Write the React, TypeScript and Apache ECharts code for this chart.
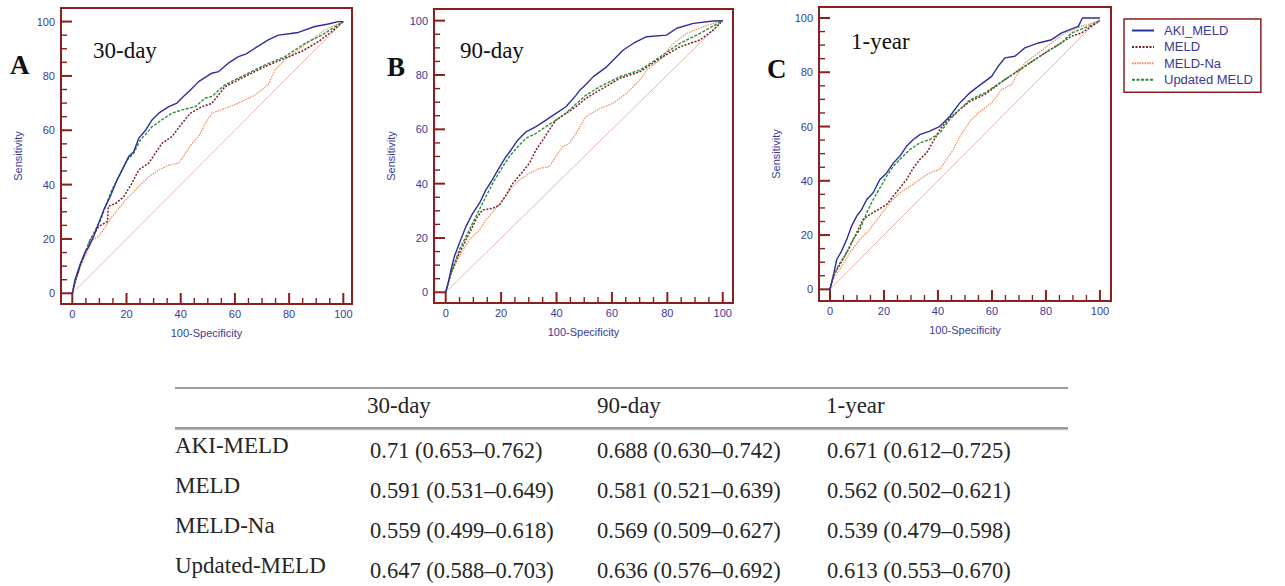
import React, { useEffect, useRef } from "react";
import * as echarts from "echarts";

// ---------- data ----------
const SERIES_NAMES = ["AKI_MELD", "MELD", "MELD-Na", "Updated MELD"];
const PANEL_TITLES = ["30-day", "90-day", "1-year"];
const PANEL_LETTERS = ["A", "B", "C"];
const MAJOR_TICKS = [0, 20, 40, 60, 80, 100];
const MINOR_TICKS = [5, 10, 15, 25, 30, 35, 45, 50, 55, 65, 70, 75, 85, 90, 95];
const X_AXIS_NAME = "100-Specificity";
const Y_AXIS_NAME = "Sensitivity";
const DIAGONAL = [[0, 0], [100, 100]];

// Panel A: 30-day
const AKI_30 = [[0,0],[1,5],[3,11],[4.8,15.3],[6,17],[7.9,20.9],[9.7,25.8],[11.6,30.7],[14,35.6],[16.5,41.7],[19,46.6],[20.8,50.3],[22.6,52],[24.5,57],[27,60],[29.4,63.8],[31.9,66.3],[35.6,68.7],[38.6,70],[41,72.4],[43.6,74.8],[46.6,77.9],[51.5,81],[54,81.6],[58,85],[61.3,87.1],[64,88],[67.4,90.2],[72.3,93.3],[76,95],[80,95.5],[83.4,96],[89.5,98.2],[94.5,99.1],[98,100],[100,100]];
const MELD_30 = [[0,0],[1,4],[3,10.4],[6.6,19.6],[9.7,24.5],[12.2,26],[13,26.5],[13.3,32],[15.9,33],[19,35.6],[22,40.5],[24.5,45.4],[28.2,47.9],[30.6,51.5],[33.1,55.2],[36.8,57.7],[40.5,62.6],[43.6,66.3],[47.9,68.7],[51.5,69.9],[56.3,76],[63.7,79.8],[71,83.4],[78.4,86.5],[84.6,89],[90.8,92.6],[95.7,96.3],[100,100]];
const NA_30 = [[0,0],[1,4],[3,9.8],[5,14],[7.3,19.6],[9.7,20.9],[12.2,24.5],[14.6,28.2],[17.7,31.9],[20.8,35.6],[24.5,39.3],[28.2,42.9],[31.9,45.4],[35.6,47.2],[39.3,47.9],[41.7,51.5],[44.2,55.2],[46.6,57.7],[49.1,62.6],[51.5,66.3],[56.3,68],[61.3,70],[67.4,73],[72.3,76.7],[74.8,82.2],[78.4,85.9],[83.4,89.6],[88.3,93.3],[93.2,96.9],[100,100]];
const UPD_30 = [[0,0],[1,4],[3,10.4],[6,18.4],[8.5,23.3],[10.5,27],[12.2,31.9],[14.6,38],[17.7,44],[20.2,49],[22.6,51.5],[25.1,56.4],[27,58.5],[29.4,61.3],[33,63.8],[36.8,66.3],[40.5,67.5],[45.4,68.7],[49,71.8],[51.5,72.5],[56.3,76.7],[63.7,80.4],[71,84],[78.4,87.1],[85.9,92],[92,95],[100,100]];

// Panel B: 90-day
const AKI_90 = [[0,0],[0.8,3],[1.9,8.2],[3.1,13.1],[4.9,18],[7.3,24.2],[9.7,29],[12.2,32.8],[14.5,37.7],[16.4,40.7],[18.8,45],[21.8,50],[23.6,52.4],[26,56],[29,59.1],[32.6,61],[36.2,63.4],[39.8,65.9],[43.4,68.3],[47,72.5],[48.5,74.5],[50.6,76.5],[53.3,79.4],[58.1,83],[60.5,85.5],[64.1,89.2],[67.8,91.7],[72.5,94.1],[79.7,94.7],[83.4,97.2],[89.4,99],[96.6,99.9],[100,100]];
const MELD_90 = [[0,0],[0.8,3],[1.9,7],[4.9,14.4],[8.5,21.7],[11.5,27.9],[13.3,30.3],[16.9,30.9],[19.4,32.1],[21.8,35.8],[24.2,40.1],[27.8,44.4],[30.2,47.5],[32.6,52.4],[35,56],[37.4,59.8],[39.8,63.4],[43.4,65.9],[47,68.3],[50.6,71.4],[55.7,74.5],[62.9,78.8],[70.1,81.2],[77.4,86.1],[84.6,90.4],[91.8,92.9],[96.6,96.6],[100,100]];
const NA_90 = [[0,0],[0.8,3],[1.9,7],[5.5,14.4],[8.5,19.3],[12.2,23],[14.5,26.6],[17.6,30.3],[20.6,34],[23.6,38.3],[26.6,41.3],[30.2,43.8],[33.8,45.6],[37.4,46.3],[39.8,50],[42.2,53.6],[44.6,54.8],[47,58.5],[50.6,64.7],[55.7,67.7],[60.5,69.6],[65.3,73.3],[70.1,78.2],[72.6,81.8],[77.4,85.5],[82.2,91.7],[87,95.3],[93,97.8],[100,100]];
const UPD_90 = [[0,0],[0.8,3],[1.9,7],[4.9,15.6],[7.3,20.5],[9.7,25.4],[12.1,30.3],[14.5,35.2],[17.6,41.3],[20.6,46.3],[23,50],[26,53.6],[29,56.7],[32.6,58.5],[36.2,61],[39.8,63.4],[43.4,65.9],[47,69.3],[50.6,72.6],[55.7,75.7],[62.9,79.4],[70.1,81.8],[77.4,86.7],[84.6,91.7],[91.8,95.3],[100,100]];

// Panel C: 1-year
const AKI_1Y = [[0,0],[1.2,4.9],[2.5,11],[4.3,14.1],[6.2,18.4],[8,23.3],[9.9,27],[11.7,29.4],[13.6,33.1],[16,35.6],[18.5,40.5],[21,42.9],[23.5,46.6],[25.9,49.1],[28.4,52.8],[30.9,55.2],[33.3,57],[37,58.3],[40.7,60.1],[44.4,63.8],[48.1,68.7],[51.9,72.5],[54.9,74.8],[59.9,78.5],[62.3,82.2],[64.8,85.3],[68.5,85.9],[72.2,89],[77.2,90.8],[82.1,92],[85.8,94.5],[92,96.9],[93.5,100],[100,100]];
const MELD_1Y = [[0,0],[1.2,4.9],[3.7,9.2],[6.8,14.7],[9.9,20.9],[12.3,25.8],[14.8,27.6],[17.9,29.4],[21,31.3],[23.5,34.4],[25.9,37.4],[28.4,40.5],[30.9,44.8],[33.3,47.9],[35.8,50.3],[38.3,54.6],[40.7,58.9],[43.8,62.6],[48.1,66.3],[51.9,69.3],[57.4,71.8],[64.8,77.3],[72.2,82.2],[79.6,87.1],[84.6,90.2],[89.5,93.3],[93.2,94.5],[96.9,96.9],[100,99]];
const NA_1Y = [[0,0],[1.2,4],[3.7,7.4],[7.4,13.5],[11.1,18.4],[14.8,22.1],[18.5,27],[22.2,31.9],[25.9,35.6],[29.6,38],[33.3,40.5],[37,42.9],[40.7,44.2],[43.2,47.9],[45.7,51.5],[48.1,56.4],[51.9,62],[54.9,65],[59.9,68.7],[63.6,73.6],[67.3,75.5],[69.8,79.8],[72.2,83.4],[77.2,87.1],[82.1,90.8],[87,94.5],[93.2,96.9],[100,99]];
const UPD_1Y = [[0,0],[1.2,4.9],[3.7,9.8],[6.2,13.5],[8.6,18.4],[11.1,22.1],[13.6,28.2],[16,33.1],[18.5,37.4],[21,41.7],[23.5,45.4],[26.5,48.5],[29.6,51.5],[33.3,54],[37,55.2],[40.7,57.7],[44.4,62.6],[48.1,66.3],[51.9,69.9],[57.4,72.4],[64.8,77.3],[72.2,82.2],[79.6,87.1],[85.8,90.8],[89.5,94.5],[95.7,96.9],[100,99]];

const PANEL_DATA = [
  [AKI_30, MELD_30, NA_30, UPD_30],
  [AKI_90, MELD_90, NA_90, UPD_90],
  [AKI_1Y, MELD_1Y, NA_1Y, UPD_1Y],
];

// AUC table
const TABLE_HEADERS = ["30-day", "90-day", "1-year"];
const TABLE_ROWS = ["AKI-MELD", "MELD", "MELD-Na", "Updated-MELD"];
const AUC_30 = ["0.71 (0.653–0.762)", "0.591 (0.531–0.649)", "0.559 (0.499–0.618)", "0.647 (0.588–0.703)"];
const AUC_90 = ["0.688 (0.630–0.742)", "0.581 (0.521–0.639)", "0.569 (0.509–0.627)", "0.636 (0.576–0.692)"];
const AUC_1Y = ["0.671 (0.612–0.725)", "0.562 (0.502–0.621)", "0.539 (0.479–0.598)", "0.613 (0.553–0.670)"];
const AUC_COLUMNS = [AUC_30, AUC_90, AUC_1Y];

// ---------- layout / style ----------
const FRAME = "#8b1e1e";
const NAVY = "#3a3a98";
const SERIF = "Liberation Serif, Times New Roman, serif";
const SANS = "Liberation Sans, Arial, sans-serif";

const PANELS = [
  { left: 61, top: 8, width: 291, height: 296, xMin: -4.17, xMax: 103.2, yMin: -3.94, yMax: 105.0, letter: [10, 65], title: [93, 50] },
  { left: 434, top: 9, width: 299, height: 294, xMin: -4.22, xMax: 103.7, yMin: -3.94, yMax: 104.3, letter: [387, 67], title: [460, 50] },
  { left: 819, top: 7, width: 292, height: 294, xMin: -4.07, xMax: 104.1, yMin: -4.3, yMax: 104.05, letter: [767, 69], title: [851, 41] },
];

const STYLES = [
  { color: "#2e2e9e", type: "solid", width: 1.4 },
  { color: "#7a1f26", type: [2, 1.5], width: 1.5 },
  { color: "#f38a5c", type: [1.5, 1], width: 1.2 },
  { color: "#2f8a3c", type: [3, 1.5], width: 1.4 },
];

const TABLE_LEFT = 175;
const TABLE_RIGHT = 1068;
const COL_X = [370, 597, 827];
const HEAD_X = [367, 597, 826];
const HEAD_Y = 405;
const ROW_LABEL_Y = [445, 485, 525, 565];
const ROW_VALUE_Y = [450, 490, 530, 570];

function tickSeries(i: number, p: any, values: number[], dir: "x" | "y", len: number, width: number) {
  return {
    type: "custom",
    xAxisIndex: i, yAxisIndex: i,
    data: values.map((v) => [v]),
    silent: true,
    clip: false,
    z: 10,
    renderItem: (_params: any, api: any) => {
      const v = api.value(0);
      if (dir === "x") {
        const pt = api.coord([v, p.yMin]);
        return { type: "line", shape: { x1: pt[0], y1: pt[1], x2: pt[0], y2: pt[1] - len },
          style: { stroke: FRAME, lineWidth: width } };
      }
      const pt = api.coord([p.xMin, v]);
      return { type: "line", shape: { x1: pt[0], y1: pt[1], x2: pt[0] + len, y2: pt[1] },
        style: { stroke: FRAME, lineWidth: width } };
    },
  };
}

function buildOption() {
  const grid: any[] = [];
  const xAxis: any[] = [];
  const yAxis: any[] = [];
  const series: any[] = [];
  const graphic: any[] = [];

  PANELS.forEach((p, i) => {
    grid.push({
      left: p.left, top: p.top, width: p.width, height: p.height,
      show: true, borderColor: FRAME, borderWidth: 2, backgroundColor: "transparent",
    });
    const lbl = { color: NAVY, fontSize: 11, fontFamily: SANS };
    xAxis.push({
      type: "value", gridIndex: i, min: p.xMin, max: p.xMax, position: "bottom",
      axisLine: { show: false, onZero: false },
      axisTick: { show: false },
      axisLabel: { show: true, customValues: MAJOR_TICKS, margin: 4, ...lbl },
      splitLine: { show: false },
      name: X_AXIS_NAME, nameLocation: "middle", nameGap: 23,
      nameTextStyle: { color: NAVY, fontSize: 11, fontFamily: SANS },
    });
    yAxis.push({
      type: "value", gridIndex: i, min: p.yMin, max: p.yMax, position: "left",
      axisLine: { show: false, onZero: false },
      axisTick: { show: false },
      axisLabel: { show: true, customValues: MAJOR_TICKS, margin: 6, ...lbl },
      splitLine: { show: false },
      name: Y_AXIS_NAME, nameLocation: "middle", nameGap: 38,
      nameTextStyle: { color: NAVY, fontSize: 11, fontFamily: SANS },
    });

    series.push(tickSeries(i, p, MAJOR_TICKS, "x", 11, 2));
    series.push(tickSeries(i, p, MINOR_TICKS, "x", 6, 1.4));
    series.push(tickSeries(i, p, MAJOR_TICKS, "y", 11, 2));
    series.push(tickSeries(i, p, MINOR_TICKS, "y", 6, 1.4));

    series.push({
      type: "line", name: "reference", xAxisIndex: i, yAxisIndex: i,
      data: DIAGONAL, symbol: "none", silent: true,
      lineStyle: { color: "#e6b3b3", width: 1 }, z: 1,
    });
    const order = [2, 1, 3, 0];
    order.forEach((k) => {
      series.push({
        type: "line", name: SERIES_NAMES[k], xAxisIndex: i, yAxisIndex: i,
        data: PANEL_DATA[i][k], symbol: "none", showSymbol: false,
        lineStyle: { color: STYLES[k].color, type: STYLES[k].type, width: STYLES[k].width },
        itemStyle: { color: STYLES[k].color },
        z: 2 + (k === 0 ? 3 : 1),
      });
    });

    graphic.push({
      type: "text", x: p.letter[0], y: p.letter[1],
      style: { text: PANEL_LETTERS[i], fontSize: 27, fontWeight: "bold", fontFamily: SERIF, fill: "#111",
        textAlign: "left", textVerticalAlign: "middle", align: "left", verticalAlign: "middle" },
    });
    graphic.push({
      type: "text", x: p.title[0], y: p.title[1],
      style: { text: PANEL_TITLES[i], fontSize: 23, fontFamily: SERIF, fill: "#111",
        textAlign: "left", textVerticalAlign: "middle", align: "left", verticalAlign: "middle" },
    });
  });

  // table
  graphic.push({ type: "line", shape: { x1: TABLE_LEFT, y1: 388, x2: TABLE_RIGHT, y2: 388 }, style: { stroke: "#7d7d7d", lineWidth: 1.4 } });
  graphic.push({ type: "line", shape: { x1: TABLE_LEFT, y1: 428, x2: TABLE_RIGHT, y2: 428 }, style: { stroke: "#7d7d7d", lineWidth: 1.6 } });
  graphic.push({ type: "line", shape: { x1: TABLE_LEFT, y1: 429.6, x2: TABLE_RIGHT, y2: 429.6 }, style: { stroke: "#c4c4c4", lineWidth: 1.4 } });
  const txt = (text: string, x: number, y: number, size: number) => ({
    type: "text", x, y,
    style: { text, fontSize: size, fontFamily: SERIF, fill: "#262626",
      textAlign: "left", textVerticalAlign: "middle", align: "left", verticalAlign: "middle" },
  });
  TABLE_HEADERS.forEach((h, j) => graphic.push(txt(h, HEAD_X[j], HEAD_Y, 23)));
  TABLE_ROWS.forEach((r, k) => {
    graphic.push(txt(r, TABLE_LEFT, ROW_LABEL_Y[k], 23));
    AUC_COLUMNS.forEach((col, j) => graphic.push(txt(col[k], COL_X[j], ROW_VALUE_Y[k], 22.5)));
  });

  return {
    animation: false,
    backgroundColor: "#ffffff",
    grid, xAxis, yAxis, series, graphic,
    legend: {
      orient: "vertical", left: 1124, top: 19,
      data: SERIES_NAMES, selectedMode: false,
      itemWidth: 22, itemHeight: 14, itemGap: 3.4,
      padding: [5, 8, 6, 7],
      borderColor: FRAME, borderWidth: 1.5, backgroundColor: "#ffffff",
      itemStyle: { opacity: 0 },
      textStyle: { color: NAVY, fontSize: 13, fontFamily: SANS, width: 102, padding: [0, 0, 0, 5] },
    },
  };
}

export default function App() {
  const ref = useRef<HTMLDivElement>(null);
  useEffect(() => {
    if (!ref.current) return;
    const chart = echarts.init(ref.current, undefined, { renderer: "svg" });
    chart.setOption(buildOption() as any);
    return () => chart.dispose();
  }, []);
  return (
    <div
      ref={ref}
      style={{ position: "fixed", left: 0, top: 0, width: 1285, height: 586, background: "#fff" }}
    />
  );
}
